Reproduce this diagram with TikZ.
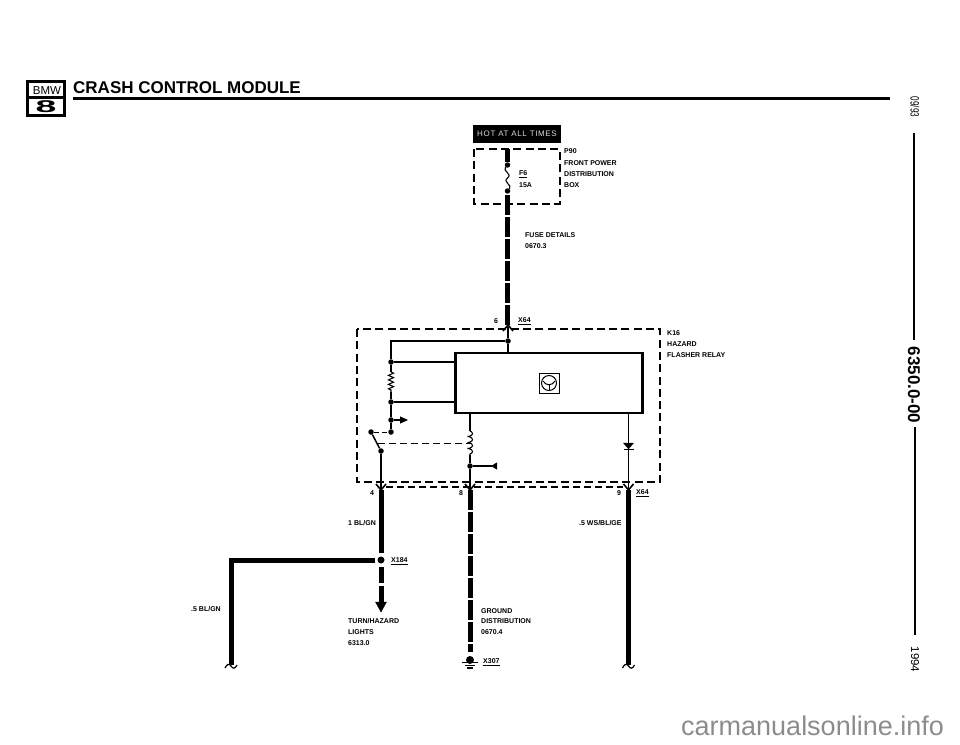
\documentclass[tikz,border=0pt]{standalone}
\usepackage{fontspec}
\setmainfont{Liberation Sans}
\newfontfamily\hotfont[LetterSpace=8]{Liberation Sans}
\usetikzlibrary{arrows.meta,decorations.pathmorphing}

\begin{document}
\begin{tikzpicture}[x=1pt,y=-1pt,inner sep=0pt,
            lbl/.style={anchor=west,font=\fontsize{7}{8}\bfseries},
            dot/.style={circle,fill,minimum size=5.5pt},
            wire/.style={line width=1.1pt},
            heavy/.style={line width=5pt},
            heavydash/.style={line width=5pt,dash pattern=on 19.5pt off 2.5pt},
            boxdash/.style={line width=2pt,dash pattern=on 8pt off 4.3pt}]
            \useasboundingbox (0,0) rectangle (960,744);

            \node[draw,line width=2.5pt,minimum width=37pt,minimum height=34pt] (logo) at (46,98.5) {};
            \draw[line width=2.5pt](logo.west |- 0,97.5)--(logo.east |- 0,97.5);
            \node(logotop) at (47,90.5) {\fontsize{11.5}{12}\selectfont BMW};
            \node[xscale=2.2] (logoeight) at (46,106.5) {\fontsize{17}{17}\bfseries 8};
            \node[anchor=west,font=\fontsize{17}{18}\bfseries] (title) at (73,87.5) {CRASH CONTROL MODULE};
            \coordinate(rulea) at (73,98.7);
            \coordinate(ruleb) at (890,98.7);
            \draw[line width=3pt](rulea)--(ruleb);

            \node[rotate=-90,xscale=.68,font=\fontsize{12}{13}\selectfont] (date) at (915,107) {09/93};
            \node[rotate=-90,font=\fontsize{17}{18}\bfseries] (code) at (914,385) {6350.0-00};
            \node[rotate=-90,font=\fontsize{11.5}{12}\selectfont] (year) at (915,659.5) {1994};
            \coordinate(sidea) at (914,133);
            \coordinate(sideb) at (914,340);
            \coordinate(sidec) at (914.5,427);
            \coordinate(sided) at (914.5,635);
            \draw[line width=2.5pt](sidea)--(sideb);
            \draw[line width=2pt](sidec)--(sided);

            \node[fill=black,minimum width=88pt,minimum height=18pt,text=white!85!black] (hot) at (517,134)
                {\fontsize{8}{9}\hotfont HOT AT ALL TIMES};
            \draw[boxdash](474,149) rectangle (559.5,204);
            \node[lbl] (p90) at (564,151.5) {P90};
            \node[lbl] (front) at (564,163) {FRONT POWER};
            \node[lbl] (distrib) at (564,174) {DISTRIBUTION};
            \node[lbl] (bx) at (564,185) {BOX};
            \node[lbl] (f6) at (519,174) {\underline{F6}};
            \node[lbl] (amps) at (519,185) {15A};

            \coordinate(fusetop) at (507.5,149);
            \node[dot] (fusea) at (507.5,165) {};
            \node[dot] (fuseb) at (507.5,191) {};
            \coordinate(feedtop) at (507.5,195);
            \coordinate(feedend) at (507.5,325);
            \draw[heavy](fusetop)--(fusea);
            \draw[wire](fusea) .. controls (502,171) and (513,174) .. (507.5,178)
                .. controls (502,182) and (513,185) .. (fuseb);
            \draw[heavydash](feedtop)--(feedend);

            \node[lbl] (fuse) at (525,235) {FUSE DETAILS};
            \node[lbl] (fusenum) at (525,246) {0670.3};
            \node[lbl,anchor=center] (pin6) at (496,321) {6};
            \node[lbl] (x64a) at (518,321) {\underline{X64}};

            \draw[boxdash](357,329) rectangle (660,482);
            \node[lbl] (k16) at (667,333) {K16};
            \node[lbl] (hazard) at (667,344) {HAZARD};
            \node[lbl] (flasher) at (667,355) {FLASHER RELAY};

            \node[draw,line width=2.2pt,minimum width=187pt,minimum height=60pt] (relay) at (549,383) {};
            \node[draw,line width=1pt,minimum size=20pt] (icon) at (549,383) {};
            \node[draw,circle,line width=1pt,minimum size=15pt] (wheel) at (549,383) {};
            \draw[line width=1pt](543,381)..controls (546,386) and (552,386) .. (555,381);
            \draw[line width=1pt](549,385)--(549,390);

            \coordinate(feedin) at (508,327);
            \node[dot] (top) at (508,341) {};
            \coordinate(topleft) at (391,341);
            \node[dot] (resa) at (391,362) {};
            \node[dot] (resb) at (391,402) {};
            \node[dot] (tap) at (391,420) {};
            \node[dot] (sw) at (391,432) {};
            \node[dot] (swa) at (371,432) {};
            \node[dot] (swb) at (381,451) {};
            \coordinate(tapend) at (408,420);
            \coordinate(coila) at (470,413);
            \coordinate(coilb) at (470,431);
            \coordinate(coilc) at (470,455);
            \node[dot] (coild) at (470,466) {};
            \coordinate(coile) at (497,466);
            \coordinate(linka) at (378,443);
            \coordinate(linkb) at (470,443);
            \coordinate(diodetop) at (628.5,413);

            \coordinate(pin4) at (381,490);
            \coordinate(pin8) at (470,490);
            \coordinate(pin9) at (628.5,490);

            \begin{scope}[wire]
                \draw(feedin)--(top)--(relay.north -| top);
                \draw(top)--(topleft)--(resa);
                \draw(resa)--(resa -| relay.west);
                \draw(resb)--(resb -| relay.west);
                \draw(resa)--(391,372);
                \draw[decorate,decoration={zigzag,amplitude=2.5pt,segment length=4.5pt}](391,372)--(391,392);
                \draw(391,392)--(resb)--(tap)--(sw);
                \draw[-{Triangle[length=8pt,width=7pt]}](tap)--(tapend);
                \draw[line width=1.5pt](swa)--(swb);
                \draw(swb)--(pin4);
                \draw(coila)--(coilb);
                \draw[decorate,decoration={coil,aspect=.4,amplitude=2.5pt,segment length=6pt}](coilb)--(coilc);
                \draw(coilc)--(coild)--(pin8);
                \draw[-{Triangle[reversed,length=6pt,width=7pt]}](coild)--(coile);
                \draw(diodetop)--(pin9);
            \end{scope}
            \draw[line width=1pt,dash pattern=on 5pt off 3pt](swa)--(sw);
            \draw[line width=1pt,dash pattern=on 7pt off 4pt](linka)--(linkb);
            \draw[fill](623.5,443)--(633.5,443)--(628.5,449)--cycle;
            \draw[line width=1.2pt](623.5,449.5)--(633.5,449.5);

            \draw[line width=1.4pt,dash pattern=on 7pt off 4pt](386,487)--(623,487);
            \foreach \x in {381,470,628.5}
                \draw[line width=1.6pt](\x-5,484)--(\x,490)--(\x+5,484);
            \draw[line width=1.6pt](503,331)--(508,325)--(513,331);

            \node[lbl,anchor=center] (pin4txt) at (372,493) {4};
            \node[lbl,anchor=center] (pin8txt) at (461,493) {8};
            \node[lbl,anchor=center] (pin9txt) at (619,493) {9};
            \node[lbl] (x64b) at (636,493) {\underline{X64}};

            \node[dot,minimum size=7pt] (splice) at (381,560) {};
            \coordinate(leftcorner) at (231,560);
            \coordinate(leftend) at (231,665);
            \coordinate(splicein) at (375,560);
            \coordinate(pindown) at (381,553);
            \coordinate(turna) at (381,567);
            \coordinate(turnb) at (381,602);
            \coordinate(turntip) at (381,612);
            \coordinate(groundend) at (470,652);
            \coordinate(rightend) at (628.5,665);
            \node[dot,minimum size=8pt] (ground) at (470,660) {};

            \draw[heavy](pin4)--(pindown);
            \draw[heavy](splicein)--(leftcorner)--(leftend);
            \draw[heavy,dash pattern=on 16pt off 2.5pt](turna)--(turnb);
            \draw[fill](375.5,602)--(386.5,602)--(turntip)--cycle;
            \draw[heavydash](pin8)--(groundend);
            \draw[heavy](pin9)--(rightend);

            \foreach \x in {231,628.5}
                \draw[line width=1.2pt](\x-6,668) .. controls (\x-4,664) and (\x-2,663) .. (\x,666)
                    .. controls (\x+2,669) and (\x+4,669) .. (\x+6,665);

            \draw[line width=1.3pt](462,662.5)--(478,662.5);
            \draw[line width=1.3pt](465,665.5)--(475,665.5);
            \draw[line width=1.3pt](467,668)--(473,668);

            \node[lbl] (bg) at (348,523) {1 BL/GN};
            \node[lbl] (ws) at (579,523) {.5 WS/BL/GE};
            \node[lbl] (x184) at (391,561) {\underline{X184}};
            \node[lbl] (bglow) at (191,609) {.5 BL/GN};
            \node[lbl] (turn) at (348,621) {TURN/HAZARD};
            \node[lbl] (lights) at (348,632) {LIGHTS};
            \node[lbl] (turnnum) at (348,643) {6313.0};
            \node[lbl] (gnd) at (481,611) {GROUND};
            \node[lbl] (gnddist) at (481,621) {DISTRIBUTION};
            \node[lbl] (gndnum) at (481,632) {0670.4};
            \node[lbl] (x307) at (483,662) {\underline{X307}};

            \node[anchor=base west,text=black!45,font=\fontsize{27}{28}\selectfont] (site) at (681,735) {carmanualsonline.info};
        \end{tikzpicture}
\end{document}
